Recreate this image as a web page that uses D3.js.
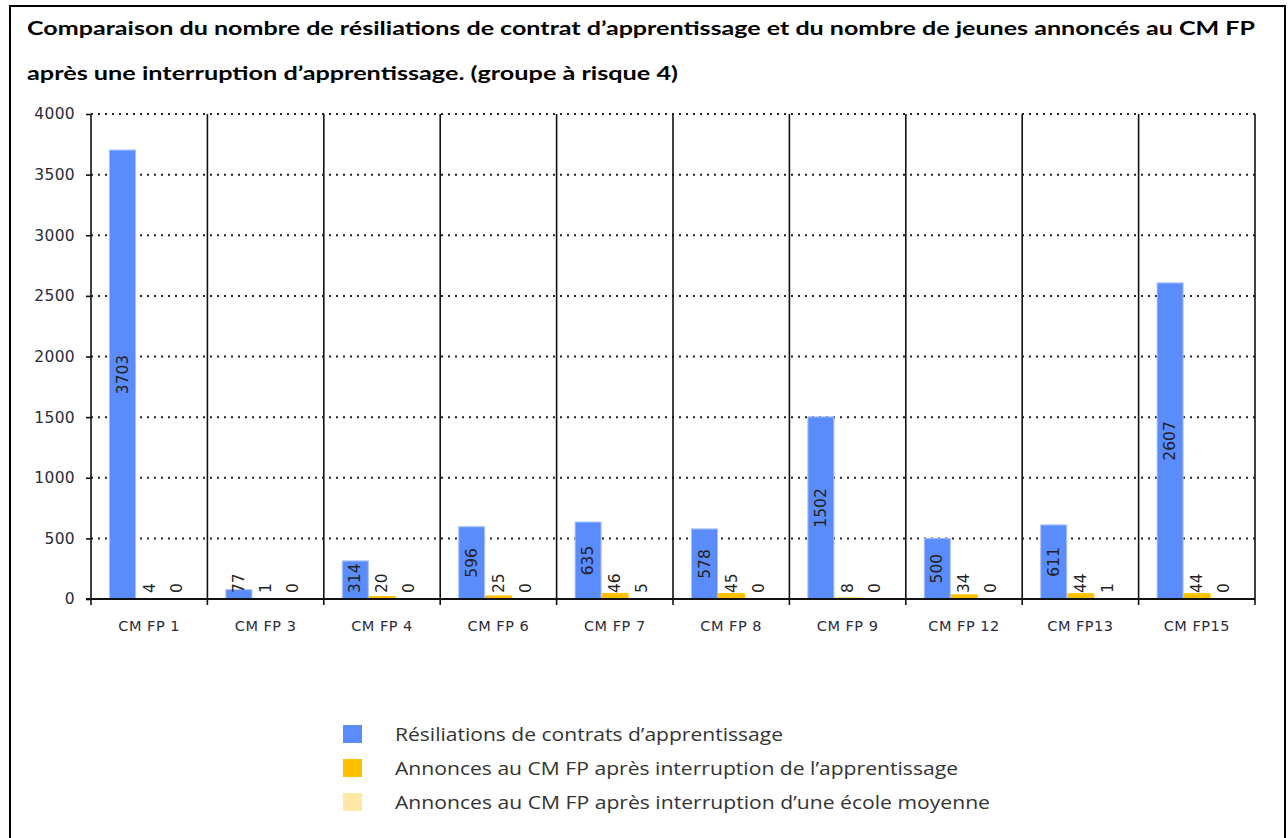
<!DOCTYPE html>
<html>
<head>
<meta charset="utf-8">
<script src="https://cdn.jsdelivr.net/npm/d3@7"></script>
<style>
  html, body { margin: 0; padding: 0; background: #fff; }
  svg { display: block; }
</style>
</head>
<body>
<svg id="chart" width="1288" height="838"></svg>
<script>
const titleLines = [
  "Comparaison du nombre de résiliations de contrat d’apprentissage et du nombre de jeunes annoncés au CM FP",
  "après une interruption d’apprentissage. (groupe à risque 4)"
];
const categories = ["CM FP 1", "CM FP 3", "CM FP 4", "CM FP 6", "CM FP 7", "CM FP 8", "CM FP 9", "CM FP 12", "CM FP13", "CM FP15"];
const seriesNames = [
  "Résiliations de contrats d’apprentissage",
  "Annonces au CM FP après interruption de l’apprentissage",
  "Annonces au CM FP après interruption d’une école moyenne"
];
const resiliations = [3703, 77, 314, 596, 635, 578, 1502, 500, 611, 2607];
const annoncesApprentissage = [4, 1, 20, 25, 46, 45, 8, 34, 44, 44];
const annoncesEcole = [0, 0, 0, 0, 5, 0, 0, 0, 1, 0];
const yTicks = [0, 500, 1000, 1500, 2000, 2500, 3000, 3500, 4000];
const colors = ["#5b8cfc", "#ffc000", "#ffe7a6"];
const strokes = ["#a9c0ff", "#ffc000", "#ffe7a6"];

const series = [resiliations, annoncesApprentissage, annoncesEcole];
const svg = d3.select("#chart");

// outer frame
svg.append("rect").attr("x", 10).attr("y", 6).attr("width", 1275).attr("height", 840)
  .attr("fill", "none").attr("stroke", "#000").attr("stroke-width", 2);

// title
const titleW = [1228, 651];
svg.selectAll("text.title").data(titleLines).join("text")
  .attr("class", "title")
  .attr("x", 27).attr("y", (d, i) => 35 + i * 45)
  .attr("font-family", "Lato, 'Open Sans', sans-serif")
  .attr("font-weight", "bold").attr("font-size", 19.5)
  .attr("fill", "#000")
  .attr("textLength", (d, i) => titleW[i]).attr("lengthAdjust", "spacingAndGlyphs")
  .text(d => d);

const pLeft = 91, pRight = 1255, pTop = 114, pBottom = 599;
const x0 = d3.scaleBand().domain(categories).range([pLeft, pRight]).padding(0);
const x1 = d3.scaleBand().domain([0, 1, 2]).range([18, 99]).padding(0);
const y = d3.scaleLinear().domain([0, 4000]).range([pBottom, pTop]);

// dotted horizontal grid
svg.append("g").selectAll("line").data(yTicks.filter(t => t > 0)).join("line")
  .attr("x1", pLeft).attr("x2", pRight)
  .attr("y1", d => y(d)).attr("y2", d => y(d))
  .attr("stroke", "#222").attr("stroke-width", 2).attr("stroke-dasharray", "2,5");

// bars
const groups = svg.append("g").selectAll("g").data(categories).join("g")
  .attr("transform", d => `translate(${x0(d)},0)`);
groups.selectAll("rect").data((c, ci) => series.map((s, si) => ({ si, v: s[ci] }))).join("rect")
  .attr("x", d => x1(d.si) + 0.5)
  .attr("width", x1.bandwidth() - 1)
  .attr("y", d => y(d.v))
  .attr("height", d => y(0) - y(d.v))
  .attr("fill", d => colors[d.si])
  .attr("stroke", d => d.v > 0 ? strokes[d.si] : "none").attr("stroke-width", 1);

// vertical separators
const bounds = categories.map(c => x0(c)).concat([pRight]);
svg.append("g").selectAll("line").data(bounds).join("line")
  .attr("x1", d => d).attr("x2", d => d)
  .attr("y1", pTop).attr("y2", pBottom + 6)
  .attr("stroke", "#111").attr("stroke-width", 1.6);

// y axis
const yAxis = svg.append("g").attr("transform", `translate(${pLeft},0)`)
  .call(d3.axisLeft(y).tickValues(yTicks).tickFormat(d3.format("d")).tickSize(5).tickPadding(11));
yAxis.select(".domain").remove();
yAxis.selectAll(".tick line").attr("stroke", "#111").attr("stroke-width", 1.6);
yAxis.selectAll(".tick text")
  .attr("font-family", "'DejaVu Sans', Verdana, sans-serif")
  .attr("font-size", 15.5).attr("letter-spacing", 0.3).attr("fill", "#2b2b3a");

// x axis
const xAxis = svg.append("g").attr("transform", `translate(0,${pBottom})`)
  .call(d3.axisBottom(x0).tickSize(0).tickPadding(22));
xAxis.select(".domain").attr("stroke", "#111").attr("stroke-width", 2)
  .attr("d", `M${pLeft - 5},0H${pRight}`);
xAxis.selectAll(".tick text")
  .attr("font-family", "'DejaVu Sans', Verdana, sans-serif")
  .attr("font-size", 14.5).attr("letter-spacing", 0.5).attr("fill", "#2b2b3a");

// value labels
groups.selectAll("text.val").data((c, ci) => series.map((s, si) => ({ si, v: s[ci] }))).join("text")
  .attr("class", "val")
  .each(function (d) {
    const cx = x1(d.si) + x1.bandwidth() / 2;
    const len = String(d.v).length * 10;
    const h = y(0) - y(d.v);
    let cy, anchor;
    if (h > len + 14) { cy = (y(d.v) + y(0)) / 2; anchor = "middle"; }
    else { cy = pBottom - 6; anchor = "start"; }
    d3.select(this)
      .attr("transform", `translate(${cx},${cy}) rotate(-90)`)
      .attr("text-anchor", anchor);
  })
  .attr("dominant-baseline", "central")
  .attr("font-family", "'DejaVu Sans', Verdana, sans-serif")
  .attr("font-size", 15.5).attr("fill", "#222")
  .text(d => d.v);

// legend
const legW = [388, 563, 595];
const leg = svg.append("g").selectAll("g").data(seriesNames).join("g")
  .attr("transform", (d, i) => `translate(343,${725 + i * 34})`);
leg.append("rect").attr("width", 19).attr("height", 18)
  .attr("fill", (d, i) => colors[i]);
leg.append("text").attr("x", 52).attr("y", 9)
  .attr("dominant-baseline", "central")
  .attr("font-family", "'Open Sans', sans-serif").attr("font-size", 19)
  .attr("fill", "#333")
  .attr("textLength", (d, i) => legW[i]).attr("lengthAdjust", "spacingAndGlyphs")
  .text(d => d);
</script>
</body>
</html>
